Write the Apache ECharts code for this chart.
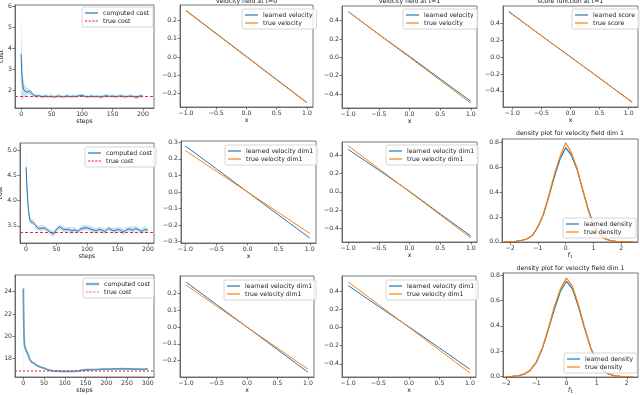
<!DOCTYPE html>
<html>
<head>
<meta charset="utf-8">
<script src="https://cdn.jsdelivr.net/npm/echarts@6/dist/echarts.min.js"></script>
<style>
  html, body { margin: 0; padding: 0; background: #fff; }
  #chart { width: 640px; height: 395px; }
</style>
</head>
<body>
<div id="chart"></div>
<script>
// cost curves
const steps200 = [0,1,2,3,4,6,8,10,12,14,16,18,20,23,26,30,35,40,45,50,55,60,65,70,75,80,85,90,95,100,105,110,115,120,125,130,135,140,145,150,155,160,165,170,175,180,185,190,195,200]
const costA = [3.72,2.9,2.45,2.2,2.05,1.95,1.92,1.9,1.93,1.97,1.88,1.82,1.76,1.72,1.7,1.73,1.68,1.72,1.69,1.71,1.67,1.72,1.7,1.68,1.73,1.69,1.71,1.7,1.73,1.75,1.7,1.68,1.72,1.69,1.71,1.67,1.7,1.74,1.7,1.72,1.69,1.71,1.73,1.68,1.7,1.72,1.69,1.66,1.73,1.71]
const spreadA = [2.1,1.4,0.9,0.6,0.45,0.3,0.22,0.18,0.15,0.14,0.12,0.12,0.1,0.1,0.09,0.08,0.09,0.08,0.07,0.09,0.08,0.08,0.09,0.07,0.08,0.09,0.08,0.08,0.07,0.09,0.08,0.08,0.09,0.08,0.07,0.08,0.09,0.08,0.08,0.07,0.09,0.08,0.08,0.09,0.08,0.07,0.08,0.09,0.08,0.08]
const trueCostA = 1.7

const costB = [4.66,4.4,4.15,3.95,3.8,3.62,3.58,3.58,3.56,3.57,3.5,3.47,3.45,3.44,3.45,3.46,3.42,3.37,3.34,3.43,3.48,3.44,3.42,3.43,3.4,3.42,3.39,3.44,3.46,3.46,3.44,3.42,3.4,3.43,3.41,3.39,3.45,3.42,3.4,3.43,3.41,3.38,3.42,3.44,3.41,3.45,3.42,3.39,3.43,3.41]
const spreadB = [0.35,0.25,0.18,0.12,0.1,0.08,0.07,0.06,0.06,0.06,0.05,0.06,0.05,0.05,0.06,0.05,0.04,0.05,0.06,0.05,0.05,0.06,0.05,0.05,0.06,0.05,0.04,0.05,0.06,0.05,0.05,0.06,0.05,0.05,0.06,0.05,0.04,0.05,0.06,0.05,0.05,0.06,0.05,0.05,0.06,0.05,0.04,0.05,0.06,0.05]
const trueCostB = 3.385

const steps300 = [0,1,2,3,5,7,10,13,16,20,25,30,35,40,45,50,55,60,65,70,80,90,100,110,120,130,140,150,160,170,180,190,200,210,220,230,240,250,260,270,280,290,300]
const costC = [24.3,21.5,19.8,19.2,18.9,18.7,18.5,18.2,17.9,17.7,17.6,17.45,17.35,17.25,17.2,17.15,17.05,17.0,16.95,16.9,16.88,16.86,16.85,16.85,16.86,16.88,16.95,17.0,17.0,17.02,17.03,17.05,17.05,17.06,17.08,17.08,17.1,17.08,17.07,17.06,17.05,17.04,17.08]
const spreadC = [0.6,0.3,0.15,0.1,0.08,0.06,0.05,0.05,0.05,0.05,0.05,0.05,0.05,0.05,0.05,0.05,0.05,0.05,0.05,0.05,0.05,0.05,0.05,0.05,0.05,0.05,0.05,0.05,0.05,0.05,0.05,0.05,0.05,0.05,0.05,0.05,0.05,0.05,0.05,0.05,0.05,0.05,0.05]
const trueCostC = 16.95

// velocity / score lines
const xs = [-1, -0.5, 0, 0.5, 1]
const xsScore = [-1.06, -0.5, 0, 0.5, 1.06]
const learnedV0 = [0.252, 0.127, 0.002, -0.123, -0.248]
const trueV0 = [0.25, 0.125, 0, -0.125, -0.25]
const learnedV1 = [0.5, 0.25, 0.01, -0.235, -0.48]
const trueV1 = [0.5, 0.25, 0, -0.25, -0.5]
const learnedScore = [0.535, 0.25, 0.0, -0.25, -0.535]
const trueScore = [0.53, 0.25, 0, -0.25, -0.53]
const learnedB0 = [0.278, 0.14, 0.0, -0.14, -0.278]
const trueB0 = [0.25, 0.125, 0, -0.125, -0.25]
const learnedB1 = [0.46, 0.235, 0.005, -0.24, -0.48]
const trueB1 = [0.5, 0.25, 0, -0.25, -0.5]
const learnedC0 = [0.268, 0.134, 0.0, -0.134, -0.268]
const trueC0 = [0.25, 0.125, 0, -0.125, -0.25]
const learnedC1 = [0.46, 0.23, 0.005, -0.225, -0.46]
const trueC1 = [0.5, 0.25, 0, -0.25, -0.5]

// densities
const densXB = [-2.2,-2.0,-1.8,-1.6,-1.4,-1.2,-1.0,-0.8,-0.6,-0.4,-0.2,0,0.2,0.4,0.6,0.8,1.0,1.2,1.4,1.6,1.8,2.0,2.2,2.4]
const learnedDensB = [0.0,0.002,0.004,0.01,0.022,0.05,0.12,0.22,0.37,0.53,0.67,0.76,0.70,0.59,0.43,0.27,0.14,0.065,0.026,0.01,0.004,0.002,0.001,0.0]
const trueDensB = [0.0,0.002,0.004,0.01,0.022,0.05,0.12,0.225,0.38,0.55,0.69,0.80,0.72,0.60,0.43,0.26,0.13,0.06,0.024,0.009,0.003,0.001,0.0,0.0]
const densXC = [-2.0,-1.8,-1.6,-1.4,-1.2,-1.0,-0.8,-0.6,-0.4,-0.2,0,0.2,0.4,0.6,0.8,1.0,1.2,1.4,1.6,1.8,2.0,2.2]
const learnedDensC = [0.002,0.004,0.008,0.02,0.05,0.11,0.22,0.37,0.53,0.67,0.75,0.69,0.55,0.38,0.23,0.12,0.055,0.022,0.008,0.003,0.001,0.0]
const trueDensC = [0.002,0.004,0.008,0.02,0.05,0.115,0.225,0.38,0.55,0.69,0.775,0.71,0.565,0.39,0.23,0.115,0.05,0.02,0.007,0.002,0.001,0.0]

// tick values
const ticksCostA = [2, 3, 4, 5, 6]
const ticksCostB = [3.5, 4.0, 4.5, 5.0]
const ticksCostC = [18, 20, 22, 24]
const ticksSteps200 = [0, 50, 100, 150, 200]
const ticksSteps300 = [0, 50, 100, 150, 200, 250, 300]
const ticksX = [-1, -0.5, 0, 0.5, 1]
const ticksV02 = [-0.2, -0.1, 0, 0.1, 0.2]
const ticksV03 = [-0.3, -0.2, -0.1, 0, 0.1, 0.2, 0.3]
const ticksV04 = [-0.4, -0.2, 0, 0.2, 0.4]
const ticksDensX = [-2, -1, 0, 1, 2]
const ticksDensY = [0, 0.2, 0.4, 0.6, 0.8]

const FONT = 'DejaVu Sans'
const FS = 6.2
const AX = '#555'
const BLUE = '#1f77b4', ORANGE = '#ff7f0e', RED = '#ee2a2a'
const BAND = '#cfe1ee'
const DASH_ICON = 'path://M0,0h4v2h-4z M6,0h4v2h-4z M12,0h4v2h-4z M18,0h4v2h-4z'

// plot boxes: left, top, width, height
const boxes = [
  [15, 5, 139, 103], [180, 5, 133, 102], [342, 6, 135, 102], [503, 6, 135, 101],
  [20, 143, 134, 100], [181, 141, 135, 102], [342, 142, 135, 100], [502, 139, 136, 103],
  [15, 275, 139, 102], [180, 276, 134, 101], [342, 276, 134, 101], [503, 273, 135, 104]
]

function fmt(dec) {
  return v => v.toFixed(dec).replace('-', '\u2212')
}

function axis(i, min, max, ticks, dec, name, gap) {
  return {
    type: 'value', gridIndex: i, min: min, max: max, z: 3,
    axisLine: { onZero: false, lineStyle: { color: AX, width: 0.8 } },
    axisTick: { customValues: ticks, length: 2.5, lineStyle: { color: AX, width: 0.8 } },
    axisLabel: { customValues: ticks, formatter: fmt(dec), fontSize: FS, color: '#333', margin: 3, fontFamily: FONT },
    splitLine: { show: false },
    name: name || '', nameLocation: 'middle', nameGap: gap || 8,
    nameTextStyle: {
      fontSize: FS, color: '#222', fontFamily: FONT,
      rich: { f: { fontStyle: 'italic', fontSize: FS }, s: { fontSize: 4.5, padding: [4, 0, 0, 0] } }
    }
  }
}

function line(name, i, x, y, color, width, opacity) {
  return {
    name: name, type: 'line', xAxisIndex: i, yAxisIndex: i,
    data: x.map((v, k) => [v, y[k]]),
    symbol: 'none', animation: false,
    lineStyle: { color: color, width: width, opacity: opacity == null ? 1 : opacity },
    itemStyle: { color: color }
  }
}

// shaded spread: upper edge filled down to the axis, then covered below the lower edge
function band(i, x, y, spread) {
  const common = { type: 'line', xAxisIndex: i, yAxisIndex: i, symbol: 'none', animation: false,
    silent: true, lineStyle: { width: 0, opacity: 0 } }
  return [
    Object.assign({}, common, { z: 1, data: x.map((v, k) => [v, y[k] + spread[k]]),
      areaStyle: { color: BAND, opacity: 1, origin: 'start' } }),
    Object.assign({}, common, { z: 1.5, data: x.map((v, k) => [v, y[k] - spread[k]]),
      areaStyle: { color: '#fff', opacity: 1, origin: 'start' } })
  ]
}

function trueLine(name, i, value, style) {
  return {
    name: name, type: 'line', xAxisIndex: i, yAxisIndex: i, data: [], symbol: 'none', animation: false,
    z: 4, lineStyle: style, itemStyle: { color: style.color },
    markLine: { symbol: 'none', silent: true, animation: false, label: { show: false }, z: 4,
      lineStyle: style, data: [{ yAxis: value }] }
  }
}

function legend(left, top, names, thick) {
  return {
    left: left, top: top, orient: 'vertical',
    data: names.map((n, k) => ({ name: n, icon: (k === 1 && /cost/.test(n)) ? DASH_ICON : 'rect',
      itemStyle: { opacity: thick ? 0.6 : 1 } })),
    itemWidth: 13, itemHeight: thick ? 2.4 : 1.2, itemGap: 2, padding: [3, 4, 3, 3],
    backgroundColor: 'rgba(255,255,255,0.8)', borderColor: '#ccc', borderWidth: 0.8, borderRadius: 2,
    selectedMode: false,
    textStyle: { fontSize: FS, color: '#222', fontFamily: FONT }
  }
}

function title(text, cx, top) {
  return { text: text, left: cx, top: top, textAlign: 'center', padding: 0,
    textStyle: { fontSize: FS, fontWeight: 'normal', color: '#222', fontFamily: FONT } }
}

const xAxes = [
  axis(0, -10, 218, ticksSteps200, 0, 'steps', 8),
  axis(1, -1.1, 1.1, ticksX, 1, 'x', 9),
  axis(2, -1.1, 1.1, ticksX, 1, 'x', 9),
  axis(3, -1.16, 1.16, ticksX, 1, 'x', 9),
  axis(4, -10, 210, ticksSteps200, 0, 'steps', 8),
  axis(5, -1.07, 1.1, ticksX, 1, 'x', 9),
  axis(6, -1.1, 1.1, ticksX, 1, 'x', 9),
  axis(7, -2.29, 2.6, ticksDensX, 0, '{f|f}{s|1}', 8),
  axis(8, -20, 315, ticksSteps300, 0, 'steps', 8),
  axis(9, -1.1, 1.1, ticksX, 1, 'x', 9),
  axis(10, -1.1, 1.1, ticksX, 1, 'x', 9),
  axis(11, -2.1, 2.37, ticksDensX, 0, '{f|f}{s|1}', 8)
]

const yAxes = [
  axis(0, 1.15, 6.05, ticksCostA, 0, 'cost', 7),
  axis(1, -0.272, 0.282, ticksV02, 1),
  axis(2, -0.553, 0.56, ticksV04, 1),
  axis(3, -0.59, 0.6, ticksV04, 1),
  axis(4, 3.16, 5.14, ticksCostB, 1, 'cost', 12),
  axis(5, -0.308, 0.308, ticksV03, 1),
  axis(6, -0.545, 0.54, ticksV04, 1),
  axis(7, -0.002, 0.83, ticksDensY, 1),
  axis(8, 16.35, 25.5, ticksCostC, 0, 'cost', 8),
  axis(9, -0.297, 0.304, ticksV02, 1),
  axis(10, -0.545, 0.564, ticksV04, 1),
  axis(11, -0.002, 0.815, ticksDensY, 1)
]

const series = [].concat(
  band(0, steps200, costA, spreadA),
  [line('computed cost', 0, steps200, costA, BLUE, 1),
   trueLine('true cost', 0, trueCostA, { color: RED, width: 1, type: [3, 2] })],
  band(4, steps200, costB, spreadB),
  [line('computed cost', 4, steps200, costB, BLUE, 1),
   trueLine('true cost', 4, trueCostB, { color: RED, width: 1, type: [3, 2] })],
  band(8, steps300, costC, spreadC),
  [line('computed cost', 8, steps300, costC, BLUE, 1.8, 0.7),
   trueLine('true cost', 8, trueCostC, { color: 'rgba(238,42,42,0.55)', width: 2, type: [2, 2] })],
  [line('learned velocity', 1, xs, learnedV0, BLUE, 1),
   line('true velocity', 1, xs, trueV0, ORANGE, 1),
   line('learned velocity', 2, xs, learnedV1, BLUE, 1),
   line('true velocity', 2, xs, trueV1, ORANGE, 1),
   line('learned score', 3, xsScore, learnedScore, BLUE, 1),
   line('true score', 3, xsScore, trueScore, ORANGE, 1),
   line('learned velocity dim1', 5, xs, learnedB0, BLUE, 1),
   line('true velocity dim1', 5, xs, trueB0, ORANGE, 1),
   line('learned velocity dim1', 6, xs, learnedB1, BLUE, 1),
   line('true velocity dim1', 6, xs, trueB1, ORANGE, 1),
   line('learned density', 7, densXB, learnedDensB, BLUE, 1.2),
   line('true density', 7, densXB, trueDensB, ORANGE, 1.2),
   line('learned velocity dim1', 9, xs, learnedC0, BLUE, 1),
   line('true velocity dim1', 9, xs, trueC0, ORANGE, 1),
   line('learned velocity dim1', 10, xs, learnedC1, BLUE, 1),
   line('true velocity dim1', 10, xs, trueC1, ORANGE, 1),
   line('learned density', 11, densXC, learnedDensC, BLUE, 1.2),
   line('true density', 11, densXC, trueDensC, ORANGE, 1.2)]
)

const option = {
  backgroundColor: '#fff',
  animation: false,
  textStyle: { fontFamily: FONT },
  title: [
    title('velocity field at t=0', 246.5, -2),
    title('velocity field at t=1', 409.5, -2),
    title('score function at t=1', 570.5, -2),
    title('density plot for velocity field dim 1', 570, 130),
    title('density plot for velocity field dim 1', 570.5, 265)
  ],
  grid: boxes.map(b => ({
    left: b[0], top: b[1], width: b[2], height: b[3],
    show: true, borderColor: AX, borderWidth: 0.8, backgroundColor: 'transparent',
    containLabel: false, outerBoundsMode: 'none', z: 3
  })),
  legend: [
    legend(82, 7, ['computed cost', 'true cost']),
    legend(242, 9, ['learned velocity', 'true velocity']),
    legend(403, 9, ['learned velocity', 'true velocity']),
    legend(572, 9, ['learned score', 'true score']),
    legend(85, 147, ['computed cost', 'true cost']),
    legend(225, 145, ['learned velocity dim1', 'true velocity dim1']),
    legend(386, 145, ['learned velocity dim1', 'true velocity dim1']),
    legend(563, 218, ['learned density', 'true density']),
    legend(83, 278, ['computed cost', 'true cost'], true),
    legend(224, 280, ['learned velocity dim1', 'true velocity dim1']),
    legend(386, 280, ['learned velocity dim1', 'true velocity dim1']),
    legend(564, 353, ['learned density', 'true density'])
  ],
  xAxis: xAxes,
  yAxis: yAxes,
  series: series
}

const chart = echarts.init(document.getElementById('chart'))
chart.setOption(option)
</script>
</body>
</html>
